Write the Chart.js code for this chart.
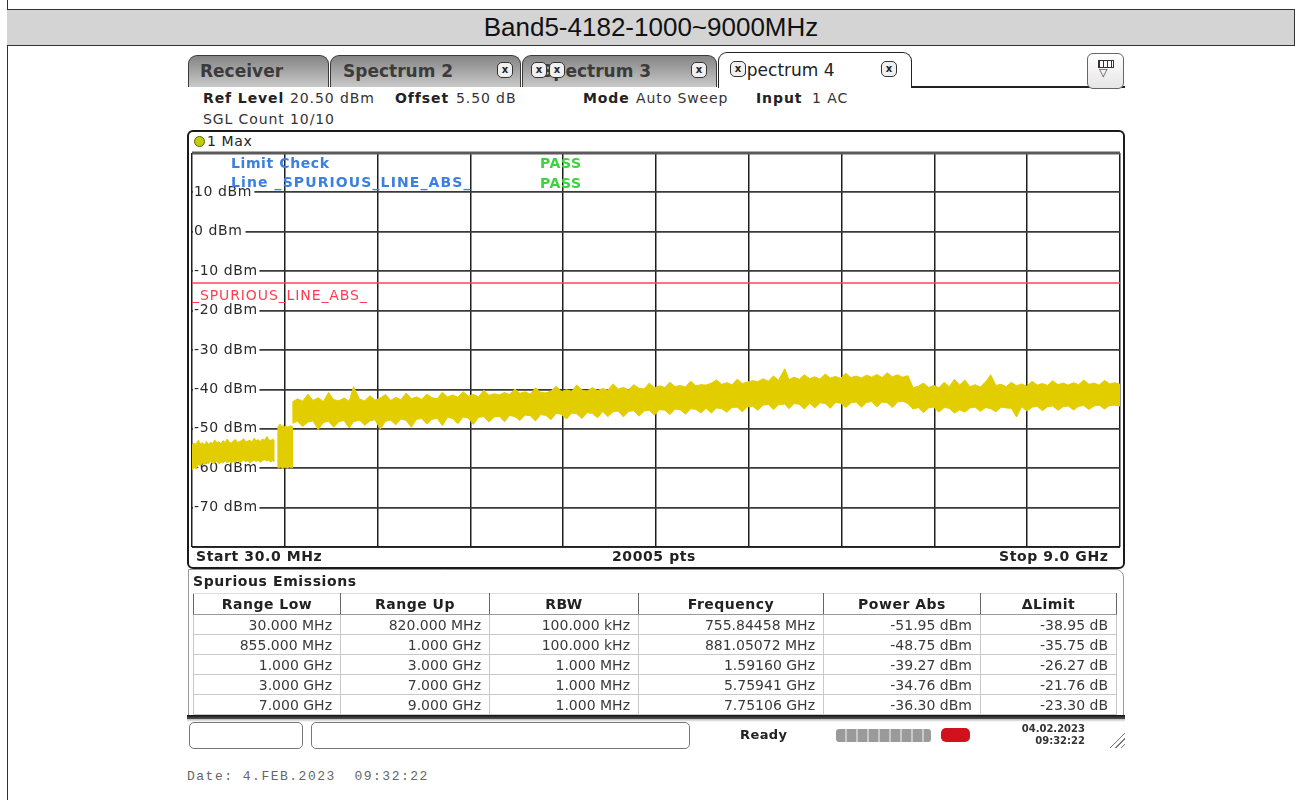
<!DOCTYPE html>
<html><head><meta charset="utf-8">
<title>Band5-4182-1000~9000MHz</title>
<script src="https://cdn.jsdelivr.net/npm/chart.js@4.4.1/dist/chart.umd.min.js"></script>
<style>
html,body{margin:0;padding:0;background:#fff;}
body{width:1295px;height:800px;position:relative;overflow:hidden;font-family:"DejaVu Sans",Verdana,sans-serif;color:#222;}
.a{position:absolute;white-space:nowrap;}
.t13{font-size:14px;line-height:16px;letter-spacing:0.6px;}
.hd{letter-spacing:0.9px;}
.b{font-weight:bold;}
.tab{position:absolute;top:55px;height:31px;border:1px solid #3a3a3a;border-bottom:none;border-radius:9px 9px 0 0;background:linear-gradient(#858585,#a3a3a3 45%,#c9c9c9);}
.tabtxt{position:absolute;top:5px;font-size:17px;line-height:20px;font-weight:bold;color:#3b3b3b;white-space:nowrap;}
.cx{position:absolute;width:14px;height:14px;border:1.5px solid #333;border-radius:5px;background:#f0f0f0;font-size:10px;line-height:14px;text-align:center;font-weight:bold;color:#222;}
#spur{position:absolute;left:193px;top:593px;border-collapse:collapse;table-layout:fixed;font-size:14px;color:#3a3a3a;}
#spur th{height:20px;font-weight:bold;color:#222;text-align:center;letter-spacing:0.5px;border-left:1px solid #666;border-right:1px solid #666;border-bottom:1px solid #999;border-top:1px solid #ddd;padding:0;}
#spur td{height:19px;text-align:right;padding:0 8px 0 0;border:1px solid #c8c8c8;white-space:nowrap;}
</style>
</head>
<body>
<script>
// ---------------- DATA ----------------
const chartTitle = "Band5-4182-1000~9000MHz";
// x (frequency, MHz) and level (dBm) of the Max-hold trace, read as upper / lower envelopes
const seg1Freq = [30,50,70,90,110,130,150,170,190,210,230,250,270,290,310,330,350,370,390,410,430,450,470,490,510,530,550,570,590,610,630,650,670,690,710,730,755.8,770,790,810,820];
const seg1Upper = [-54.2,-53.6,-54.0,-52.9,-53.8,-53.5,-54.1,-53.2,-53.9,-53.4,-53.7,-52.8,-53.6,-53.3,-53.9,-53.0,-53.5,-52.6,-53.4,-53.6,-53.1,-52.7,-53.5,-53.2,-53.0,-52.5,-53.3,-53.1,-52.9,-53.4,-52.4,-53.0,-52.8,-53.2,-52.6,-52.9,-51.95,-52.7,-53.0,-52.6,-52.8];
const seg1Lower = [-60.5,-59.8,-60.2,-59.0,-59.4,-58.7,-59.1,-58.5,-58.9,-58.3,-58.8,-58.6,-58.2,-58.9,-58.4,-58.7,-58.1,-58.6,-58.3,-58.8,-58.2,-58.5,-58.0,-58.6,-58.3,-57.9,-58.4,-58.1,-58.7,-58.2,-57.9,-58.3,-58.0,-58.5,-58.1,-57.8,-58.2,-58.0,-58.4,-58.1,-58.3];

const seg2Freq = [855,868,881.05,895,910,925,940,955,970,985,1000];
const seg2Upper = [-49.6,-49.3,-48.75,-49.4,-49.2,-49.5,-49.3,-49.6,-49.4,-49.2,-49.5];
const seg2Lower = [-59.7,-60.0,-59.6,-59.9,-60.1,-59.7,-59.8,-60.0,-59.6,-59.9,-59.8];

const seg3Freq = [1000,1050,1100,1150,1200,1250,1300,1350,1400,1450,
 1500,1550,1591.6,1650,1700,1750,1800,1850,1900,1950,
 2000,2050,2100,2150,2200,2250,2300,2350,2400,2450,
 2500,2550,2600,2650,2700,2750,2800,2850,2900,2950,
 3000,3050,3100,3150,3200,3250,3300,3350,3400,3450,
 3500,3550,3600,3650,3700,3750,3800,3850,3900,3950,
 4000,4050,4100,4150,4200,4250,4300,4350,4400,4450,
 4500,4550,4600,4650,4700,4750,4800,4850,4900,4950,
 5000,5050,5100,5150,5200,5250,5300,5350,5400,5450,
 5500,5550,5600,5650,5700,5759.4,5800,5850,5900,5950,
 6000,6050,6100,6150,6200,6250,6300,6350,6400,6450,
 6500,6550,6600,6650,6700,6750,6800,6850,6900,6950,
 7000,7050,7100,7150,7200,7250,7300,7350,7400,7450,
 7500,7550,7600,7650,7700,7751.1,7800,7850,7900,7950,
 8000,8050,8100,8150,8200,8250,8300,8350,8400,8450,
 8500,8550,8600,8650,8700,8750,8800,8850,8900,8950,
 9000];
const seg3Upper = [-43.2,-42.4,-43.0,-41.2,-42.8,-42.1,-43.1,-40.8,-42.6,-42.9,
 -42.2,-43.0,-39.27,-42.5,-42.9,-41.6,-42.7,-42.2,-41.3,-42.8,
 -42.0,-42.6,-40.9,-42.4,-41.9,-42.5,-41.2,-42.1,-42.4,-40.7,
 -41.9,-41.4,-42.0,-40.6,-41.7,-41.3,-41.9,-40.2,-41.5,-41.1,
 -41.4,-40.8,-41.3,-39.9,-41.0,-40.6,-41.2,-39.6,-40.7,-40.9,
 -40.4,-39.2,-40.6,-40.1,-40.5,-38.9,-40.2,-40.4,-39.5,-40.3,
 -39.8,-40.2,-38.6,-39.9,-39.5,-40.1,-38.8,-39.7,-39.9,-38.4,
 -39.6,-39.1,-39.5,-38.2,-39.3,-39.0,-39.4,-37.9,-39.1,-38.8,
 -38.9,-38.4,-37.6,-38.7,-38.3,-38.8,-37.4,-38.5,-38.1,-37.8,
 -38.0,-37.3,-37.9,-36.6,-37.7,-34.76,-37.5,-36.9,-37.4,-36.3,
 -37.3,-36.8,-37.4,-36.1,-37.1,-36.7,-37.2,-35.9,-37.0,-36.6,
 -37.1,-36.4,-36.9,-36.2,-37.0,-35.8,-36.8,-36.3,-36.9,-36.5,
 -39.6,-39.2,-38.4,-39.5,-39.0,-39.6,-38.2,-39.3,-37.4,-38.9,
 -37.6,-39.3,-38.8,-39.4,-38.1,-36.30,-39.0,-38.7,-39.3,-38.2,
 -39.1,-38.6,-39.2,-37.9,-38.9,-38.5,-39.0,-37.8,-38.8,-38.4,
 -38.9,-38.3,-38.8,-37.6,-38.7,-38.4,-38.9,-37.7,-38.6,-38.3,
 -38.7];
const seg3Lower = [-48.6,-48.1,-49.4,-48.3,-48.0,-50.2,-48.4,-48.1,-49.6,-48.2,
 -47.9,-49.8,-48.2,-47.8,-49.1,-48.0,-47.7,-50.1,-48.1,-47.8,
 -49.0,-47.5,-47.9,-49.6,-47.6,-47.4,-48.8,-47.6,-47.3,-49.2,
 -47.1,-47.4,-48.7,-47.0,-47.3,-48.9,-47.1,-46.9,-48.3,-47.0,
 -46.8,-48.2,-46.6,-46.9,-47.9,-46.5,-46.7,-48.0,-46.4,-46.6,
 -47.7,-46.1,-46.3,-47.5,-46.0,-46.2,-47.4,-45.9,-46.1,-47.2,
 -45.6,-46.9,-45.7,-45.5,-47.0,-45.6,-45.4,-46.8,-45.5,-45.3,
 -46.5,-45.1,-45.3,-46.4,-45.0,-45.2,-46.3,-44.9,-45.1,-46.0,
 -44.8,-46.0,-44.7,-44.9,-45.8,-44.6,-44.5,-45.7,-44.4,-44.3,
 -45.3,-44.0,-43.8,-45.1,-43.9,-43.7,-44.9,-43.6,-43.8,-45.0,
 -43.5,-44.7,-43.4,-43.6,-44.8,-43.3,-43.5,-44.6,-43.4,-43.2,
 -44.5,-43.3,-43.1,-44.4,-43.2,-43.4,-44.6,-43.2,-43.0,-43.6,
 -45.0,-44.6,-45.9,-44.7,-44.5,-45.8,-44.6,-44.8,-46.0,-45.2,
 -45.8,-44.7,-44.5,-45.6,-44.6,-44.9,-45.7,-44.5,-44.7,-44.8,
 -47.0,-44.4,-45.5,-44.5,-44.3,-45.4,-44.4,-44.2,-45.3,-44.4,
 -44.2,-45.2,-44.3,-44.1,-45.1,-44.2,-44.0,-45.0,-44.1,-44.0,
 -44.2];

const limitFreq = [30, 9000];
const limitLevel = [-13, -13];
const freqGrid = [30,927,1824,2721,3618,4515,5412,6309,7206,8103,9000];
const levelGrid = [-80,-70,-60,-50,-40,-30,-20,-10,0,10,20];
const levelLabels = [-70,-60,-50,-40,-30,-20,-10,0,10];

// Spurious emissions table
const rangeLow = ["30.000 MHz","855.000 MHz","1.000 GHz","3.000 GHz","7.000 GHz"];
const rangeUp = ["820.000 MHz","1.000 GHz","3.000 GHz","7.000 GHz","9.000 GHz"];
const rbw = ["100.000 kHz","100.000 kHz","1.000 MHz","1.000 MHz","1.000 MHz"];
const peakFreq = ["755.84458 MHz","881.05072 MHz","1.59160 GHz","5.75941 GHz","7.75106 GHz"];
const powerAbs = [-51.95,-48.75,-39.27,-34.76,-36.30];
const deltaLimit = [-38.95,-35.75,-26.27,-21.76,-23.30];
</script>

<!-- outer report frame -->
<div class="a" style="left:7px;top:0;width:1px;height:800px;background:#333"></div>
<div class="a" style="left:7px;top:9px;width:1288px;height:35px;background:#d4d4d4;border-top:1px solid #333;border-bottom:1px solid #333"></div>
<div class="a" style="left:1294px;top:9px;width:1px;height:37px;background:#333"></div>
<div class="a" id="title" style="left:7px;top:10px;width:1288px;height:35px;line-height:35px;text-align:center;font-family:'Liberation Sans',Arial,sans-serif;font-size:26px;color:#111"></div>

<!-- tabs -->
<div class="tab" style="left:188px;width:139px"><div class="tabtxt" style="left:11px">Receiver</div></div>
<div class="tab" style="left:330px;width:189px"><div class="tabtxt" style="left:12px">Spectrum 2</div><div class="cx" style="left:166px;top:6px">x</div></div>
<div class="tab" style="left:522px;width:193px"><div class="tabtxt" style="left:18px">Spectrum 3</div><div class="cx" style="left:8px;top:6px">x</div><div class="cx" style="left:26px;top:6px">x</div><div class="cx" style="left:168px;top:6px">x</div></div>
<div class="a" style="left:718px;top:52px;width:192px;height:35px;border:1.5px solid #222;border-bottom:none;border-radius:9px 9px 0 0;background:#fff">
  <div class="tabtxt" style="left:17px;top:7px;font-weight:normal;color:#222">Spectrum 4</div>
  <div class="cx" style="left:11px;top:8px">x</div><div class="cx" style="left:162px;top:8px">x</div>
</div>
<div class="a" style="left:911px;top:86px;width:214px;height:1.5px;background:#222"></div>
<div class="a" style="left:1087px;top:53px;width:35px;height:34px;border:1px solid #666;border-radius:6px;background:linear-gradient(#fff,#e6e6e6)">
  <div class="a" style="left:10px;top:6px;width:14px;height:6px;border:1.5px solid #333;background:repeating-linear-gradient(90deg,#333 0 1px,#fff 1px 4px)"></div>
  <div class="a" style="left:11px;top:13px;font-size:11px;line-height:12px;color:#333">&#9661;</div>
</div>

<!-- header info -->
<div class="a t13 hd b" style="left:203px;top:90px">Ref Level</div>
<div class="a t13 hd" style="left:290px;top:90px;color:#333">20.50 dBm</div>
<div class="a t13 hd b" style="left:395px;top:90px">Offset</div>
<div class="a t13 hd" style="left:456px;top:90px;color:#333">5.50 dB</div>
<div class="a t13 hd b" style="left:583px;top:90px">Mode</div>
<div class="a t13 hd" style="left:636px;top:90px;color:#333">Auto Sweep</div>
<div class="a t13 hd b" style="left:756px;top:90px">Input</div>
<div class="a t13 hd" style="left:812px;top:90px;color:#333">1 AC</div>
<div class="a t13 hd" style="left:203px;top:111px;color:#333">SGL Count 10/10</div>

<!-- diagram panel -->
<div class="a" style="left:187px;top:130px;width:934px;height:435px;border:2px solid #1a1a1a;border-radius:6px"></div>
<div class="a" style="left:194px;top:136px;width:9px;height:9px;border-radius:50%;background:#c5cc10;border:1px solid #556600"></div>
<div class="a t13" style="left:207px;top:133px;color:#222">1 Max</div>
<canvas id="c" class="a" width="936" height="436" style="left:188px;top:131px;width:936px;height:436px"></canvas>
<div class="a t13 b" style="left:231px;top:155px;color:#3b7fe0;z-index:3">Limit Check</div>
<div class="a t13 b" style="left:540px;top:155px;color:#3cd33c;z-index:3">PASS</div>
<div class="a t13 b" style="left:231px;top:174px;color:#3b7fe0;z-index:3;letter-spacing:1.1px">Line _SPURIOUS_LINE_ABS_</div>
<div class="a t13 b" style="left:540px;top:175px;color:#3cd33c;z-index:3">PASS</div>
<div class="a t13" id="limLbl" style="left:192px;top:288px;color:#ff3d4f;z-index:3;letter-spacing:0.9px">_SPURIOUS_LINE_ABS_</div>
<div class="a t13 b" style="left:196px;top:548px">Start 30.0 MHz</div>
<div class="a t13 b" style="left:612px;top:548px">20005 pts</div>
<div class="a t13 b" style="left:999px;top:548px">Stop 9.0 GHz</div>

<!-- table -->
<div class="a" style="left:188px;top:569px;width:934px;height:146px;border:1px solid #999;border-radius:0 8px 0 0"></div>
<div class="a b" style="left:193px;top:573px;font-size:14px;line-height:16px;letter-spacing:0.6px">Spurious Emissions</div>
<table id="spur"><colgroup><col style="width:147px"><col style="width:149px"><col style="width:149px"><col style="width:185px"><col style="width:157px"><col style="width:136px"></colgroup>
<thead><tr><th>Range Low</th><th>Range Up</th><th>RBW</th><th>Frequency</th><th>Power Abs</th><th>&Delta;Limit</th></tr></thead><tbody id="spurBody"></tbody></table>

<!-- status bar -->
<div class="a" style="left:187px;top:715px;width:938px;height:4px;background:linear-gradient(#111,#555)"></div>
<div class="a" style="left:187px;top:719px;width:938px;height:3px;background:linear-gradient(#bbb,#fff)"></div>
<div class="a" style="left:189px;top:722px;width:112px;height:25px;border:1px solid #777;border-radius:5px"></div>
<div class="a" style="left:311px;top:722px;width:377px;height:25px;border:1px solid #777;border-radius:5px"></div>
<div class="a b" style="left:740px;top:727px;font-size:13px;line-height:16px;letter-spacing:0.4px">Ready</div>
<div class="a" style="left:836px;top:729px;width:95px;height:13px;border-radius:3px;background:repeating-linear-gradient(90deg,#9a9a9a 0 9px,#c8c8c8 9px 11px)"></div>
<div class="a" style="left:941px;top:728px;width:29px;height:14px;border-radius:5px;background:#d2101e"></div>
<div class="a b" style="left:1010px;top:723px;width:75px;text-align:right;font-size:10px;line-height:12px;color:#333">04.02.2023<br>09:32:22</div>
<div class="a" style="left:1108px;top:728px;width:17px;height:20px;background:repeating-linear-gradient(135deg,transparent 0 3px,#777 3px 4px);clip-path:polygon(100% 0,100% 100%,0 100%)"></div>

<div class="a" style="left:187px;top:769px;font-family:'Liberation Mono','DejaVu Sans Mono',monospace;font-size:13px;line-height:16px;letter-spacing:1.5px;white-space:pre;color:#666">Date: 4.FEB.2023  09:32:22</div>

<script>
document.getElementById('title').textContent = chartTitle;
// table body from arrays
const tb = document.getElementById('spurBody');
for (let i = 0; i < rangeLow.length; i++) {
  const tr = document.createElement('tr');
  [rangeLow[i], rangeUp[i], rbw[i], peakFreq[i], powerAbs[i].toFixed(2) + ' dBm', deltaLimit[i].toFixed(2) + ' dB']
    .forEach(t => { const td = document.createElement('td'); td.textContent = t; tr.appendChild(td); });
  tb.appendChild(tr);
}

function band(f, up, lo) {
  const pts = f.map((x, i) => ({x: x, y: up[i]}));
  for (let i = f.length - 1; i >= 0; i--) pts.push({x: f[i], y: lo[i]});
  return pts;
}
const TRACE = '#e2cd00';
const traceDs = (f, u, l) => ({data: band(f, u, l), fill: 'shape', backgroundColor: TRACE, borderColor: TRACE,
  borderWidth: 1, pointRadius: 0, tension: 0});

const framePlugin = {
  id: 'frame',
  beforeDraw(chart) { if ('letterSpacing' in chart.ctx) chart.ctx.letterSpacing = '0.6px'; },
  afterDraw(chart) {
    const {ctx, chartArea: a} = chart;
    ctx.save();
    ctx.strokeStyle = '#5a5a5a'; ctx.lineWidth = 3;
    ctx.beginPath(); ctx.moveTo(a.left, a.top); ctx.lineTo(a.right, a.top); ctx.stroke();
    ctx.strokeStyle = '#1a1a1a'; ctx.lineWidth = 1.5;
    ctx.beginPath(); ctx.moveTo(a.left, a.bottom); ctx.lineTo(a.right, a.bottom); ctx.stroke();
    ctx.restore();
  }
};

const chart = new Chart(document.getElementById('c'), {
  type: 'line',
  data: {
    datasets: [
      {data: limitFreq.map((f, i) => ({x: f, y: limitLevel[i]})), borderColor: '#ff4458', borderWidth: 1.5, pointRadius: 0, fill: false},
      traceDs(seg1Freq, seg1Upper, seg1Lower),
      traceDs(seg2Freq, seg2Upper, seg2Lower),
      traceDs(seg3Freq, seg3Upper, seg3Lower)
    ]
  },
  options: {
    responsive: false, animation: false, devicePixelRatio: 1,
    layout: {padding: {left: 0, right: 4, top: 22, bottom: 20}},
    plugins: {legend: {display: false}, tooltip: {enabled: false}},
    elements: {line: {borderJoinStyle: 'miter'}},
    scales: {
      x: {type: 'linear', min: 30, max: 9000,
        afterBuildTicks: s => { s.ticks = freqGrid.map(v => ({value: v})); },
        ticks: {display: false},
        grid: {color: '#1e1e1e', lineWidth: 1.5, drawTicks: false},
        border: {display: false}},
      y: {type: 'linear', min: -80, max: 20,
        afterBuildTicks: s => { s.ticks = levelGrid.map(v => ({value: v})); },
        ticks: {mirror: true, padding: 2, color: '#2a2a2a', font: {family: 'DejaVu Sans', size: 14},
          callback: v => levelLabels.includes(v) ? v + ' dBm' : '',
          showLabelBackdrop: c => levelLabels.includes(c.tick.value),
          backdropColor: '#ffffff', backdropPadding: {left: 1, right: 6, top: 0, bottom: 0}},
        grid: {color: '#3a3a3a', lineWidth: 1.8, drawTicks: false},
        border: {display: false}}
    }
  },
  plugins: [framePlugin]
});
const limY = chart.scales.y.getPixelForValue(limitLevel[0]);
document.getElementById('limLbl').style.top = (131 + limY + 4) + 'px';
</script>
</body></html>
